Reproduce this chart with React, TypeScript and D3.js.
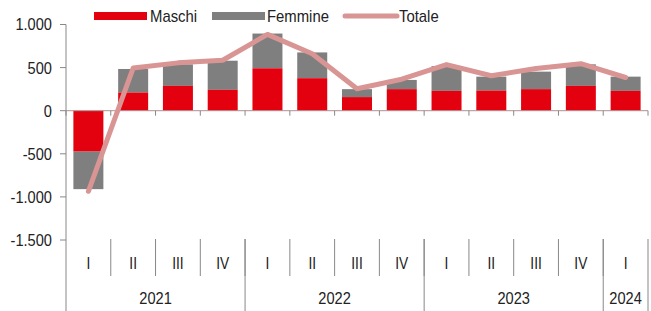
import React, { useEffect, useRef } from 'react';
import * as d3 from 'd3';

const quarters = ['I', 'II', 'III', 'IV', 'I', 'II', 'III', 'IV', 'I', 'II', 'III', 'IV', 'I'];
const yearLabels = ['2021', '2022', '2023', '2024'];
const yearSpans = [4, 4, 4, 1];
const maschi = [-472, 211, 288, 242, 492, 377, 158, 250, 230, 234, 250, 288, 230];
const femmine = [-438, 273, 250, 338, 403, 299, 92, 107, 288, 161, 203, 250, 165];
const totale = [-935, 495, 555, 585, 885, 660, 255, 365, 535, 405, 490, 545, 385];
const yTicks = [1000, 500, 0, -500, -1000, -1500];

const RED = '#e3000f';
const GREY = '#7f7f7f';
const LINE = '#d99594';
const FONT = '"Liberation Sans", Arial, sans-serif';

// Italian thousands separator, plain hyphen for negatives
const fmt = (v: number) => d3.format(',')(v).replace(/,/g, '.').replace('\u2212', '-');

const App: React.FC = () => {
    const chartRef = useRef<SVGSVGElement | null>(null);

    useEffect(() => {
        if (!chartRef.current) return;
        const svg = d3.select(chartRef.current);
        svg.selectAll('*').remove();

        const width = 651;
        const height = 311;
        const left = 66;
        const right = 648;

        svg.attr('width', width).attr('height', height);

        const x = d3.scaleBand<number>()
            .domain(d3.range(quarters.length))
            .range([left, right])
            .paddingInner(0.33)
            .paddingOuter(0.165);
        const step = x.step();
        const bandStart = (i: number) => left + i * step;

        const y = d3.scaleLinear().domain([-1500, 1000]).range([240, 24.5]);

        // narrow-looking text: squeeze horizontally
        const narrowText = (px: number, py: number, anchor: string, size: number, label: string, sx = 0.86) => {
            svg.append('g')
                .attr('transform', `translate(${px},${py}) scale(${sx},1)`)
                .append('text')
                .attr('dy', '0.35em')
                .attr('text-anchor', anchor)
                .style('font-family', FONT)
                .style('font-size', `${size}px`)
                .style('fill', '#222')
                .text(label);
        };

        // bars
        const g = svg.append('g');
        quarters.forEach((_q, i) => {
            const m = maschi[i];
            const f = femmine[i];
            g.append('rect')
                .attr('x', x(i)!)
                .attr('width', x.bandwidth())
                .attr('y', y(Math.max(m + f, m)))
                .attr('height', Math.abs(y(m + f) - y(m)))
                .attr('fill', GREY);
            g.append('rect')
                .attr('x', x(i)!)
                .attr('width', x.bandwidth())
                .attr('y', y(Math.max(0, m)))
                .attr('height', Math.abs(y(m) - y(0)))
                .attr('fill', RED);
        });

        // zero line with ticks
        svg.append('line')
            .attr('x1', left).attr('x2', right)
            .attr('y1', y(0)).attr('y2', y(0))
            .attr('stroke', '#b09090').attr('stroke-width', 1);
        d3.range(quarters.length + 1).forEach(i => {
            svg.append('line')
                .attr('x1', bandStart(i)).attr('x2', bandStart(i))
                .attr('y1', y(0)).attr('y2', y(0) + 5)
                .attr('stroke', '#888');
        });

        // line
        const line = d3.line<number>()
            .x((_d, i) => x(i)! + x.bandwidth() / 2)
            .y(d => y(d));
        svg.append('path')
            .datum(totale)
            .attr('d', line)
            .attr('fill', 'none')
            .attr('stroke', LINE)
            .attr('stroke-width', 5)
            .attr('stroke-linejoin', 'round')
            .attr('stroke-linecap', 'round');

        // y axis
        svg.append('line')
            .attr('x1', left).attr('x2', left)
            .attr('y1', y(1000)).attr('y2', height)
            .attr('stroke', '#888');
        yTicks.forEach(t => {
            svg.append('line')
                .attr('x1', left - 6).attr('x2', left)
                .attr('y1', y(t)).attr('y2', y(t))
                .attr('stroke', '#888');
            narrowText(52, y(t), 'end', 17, fmt(t));
        });

        // quarter labels and separators
        quarters.forEach((q, i) => {
            narrowText(x(i)! + x.bandwidth() / 2, 263, 'middle', 16, q);
            if (i > 0) {
                svg.append('line')
                    .attr('x1', bandStart(i)).attr('x2', bandStart(i))
                    .attr('y1', 239).attr('y2', 276)
                    .attr('stroke', '#888');
            }
        });

        // years
        let start = 0;
        yearLabels.forEach((yl, k) => {
            const end = start + yearSpans[k];
            svg.append('line')
                .attr('x1', bandStart(end)).attr('x2', bandStart(end))
                .attr('y1', 239).attr('y2', height)
                .attr('stroke', '#888');
            narrowText((bandStart(start) + bandStart(end)) / 2, 298, 'middle', 17, yl);
            start = end;
        });

        // legend
        legendItem(svg, 94, 'rect', RED, 150, 'Maschi');
        legendItem(svg, 212, 'rect', GREY, 267, 'Femmine');
        legendItem(svg, 345, 'line', LINE, 399, 'Totale');

        function legendItem(s: any, sx: number, kind: string, color: string, tx: number, label: string) {
            if (kind === 'rect') {
                s.append('rect').attr('x', sx).attr('y', 12).attr('width', 53).attr('height', 8).attr('fill', color);
            } else {
                s.append('line').attr('x1', sx).attr('x2', sx + 52).attr('y1', 16).attr('y2', 16)
                    .attr('stroke', color).attr('stroke-width', 5).attr('stroke-linecap', 'round');
            }
            narrowText(tx, 16, 'start', 16, label, 0.93);
        }
    }, []);

    return (
        <div style={{ position: 'absolute', left: 0, top: 0, background: '#fff' }}>
            <svg ref={chartRef} style={{ display: 'block' }}></svg>
        </div>
    );
};

export default App;
